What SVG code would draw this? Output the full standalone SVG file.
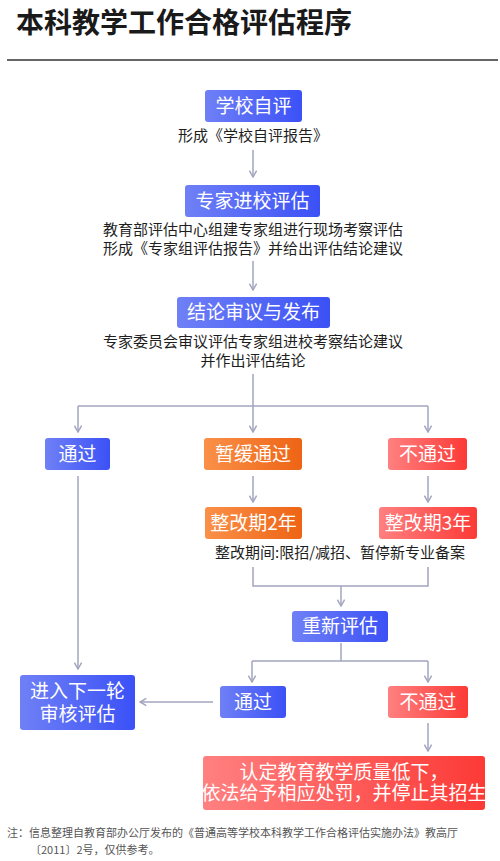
<svg xmlns="http://www.w3.org/2000/svg" width="500" height="861" viewBox="0 0 500 861">
<defs>
<linearGradient id="gBlue" x1="0" y1="0" x2="1" y2="0"><stop offset="0" stop-color="#6f80f6"/><stop offset="1" stop-color="#3b51f6"/></linearGradient>
<linearGradient id="gOrange" x1="0" y1="0" x2="1" y2="0"><stop offset="0" stop-color="#fa9048"/><stop offset="1" stop-color="#ee6415"/></linearGradient>
<linearGradient id="gRed" x1="0" y1="0" x2="1" y2="0"><stop offset="0" stop-color="#ff8080"/><stop offset="1" stop-color="#fc3a36"/></linearGradient>
<marker id="arr" viewBox="0 0 10 10" refX="9" refY="5" markerWidth="9" markerHeight="9" markerUnits="userSpaceOnUse" orient="auto">
<path d="M2,1 L9,5 L2,9" fill="none" stroke="#a2a4be" stroke-width="1.6"/>
</marker>
<style>
.t{font-family:"Noto Sans CJK SC","Noto Sans",sans-serif;}
.bt{font-family:"Noto Sans CJK SC","Noto Sans",sans-serif;font-size:19px;fill:#fff;text-anchor:middle;}
.dt{font-family:"Noto Sans CJK SC","Noto Sans",sans-serif;font-size:15px;fill:#1e1e1e;text-anchor:middle;}
.ln{fill:none;stroke:#a2a4be;stroke-width:1.5;}
.ar{fill:none;stroke:#a2a4be;stroke-width:1.5;marker-end:url(#arr);}
</style>
</defs>
<rect width="500" height="861" fill="#fff"/>
<text class="t" x="16" y="33" font-size="28" font-weight="bold" fill="#1a1a1a">本科教学工作合格评估程序</text>
<line x1="7" y1="60" x2="498" y2="60" stroke="#666" stroke-width="2"/>

<g id="connectors">
<path class="ar" d="M253,150 V177"/>
<path class="ar" d="M253,261 V290"/>
<path class="ln" d="M253,374 V406"/>
<path class="ln" d="M78,406 H428"/>
<path class="ar" d="M253,406 V432"/>
<path class="ar" d="M78,406 V432"/>
<path class="ar" d="M428,406 V432"/>
<path class="ar" d="M253,476 V502"/>
<path class="ar" d="M428,476 V502"/>
<path class="ln" d="M253,567 V586 H428 V567"/>
<path class="ar" d="M341,586 V606"/>
<path class="ln" d="M341,643 V661"/>
<path class="ln" d="M252,661 H428"/>
<path class="ar" d="M252,661 V682"/>
<path class="ar" d="M428,661 V682"/>
<path class="ar" d="M78,476 V669"/>
<path class="ar" d="M213,702 H140"/>
<path class="ar" d="M428,723 V751"/>
</g>

<g id="n1"><rect x="205" y="90" width="97" height="32" rx="3" fill="url(#gBlue)"/><text class="bt" x="253.5" y="113">学校自评</text></g>
<g id="t1"><text class="dt" x="253" y="141">形成《学校自评报告》</text></g>

<g id="n2"><rect x="185" y="185" width="135" height="32" rx="3" fill="url(#gBlue)"/><text class="bt" x="252.5" y="208">专家进校评估</text></g>
<g id="t2"><text class="dt" x="253" y="235">教育部评估中心组建专家组进行现场考察评估</text><text class="dt" x="253" y="254">形成《专家组评估报告》并给出评估结论建议</text></g>

<g id="n3"><rect x="177" y="297" width="153" height="31" rx="3" fill="url(#gBlue)"/><text class="bt" x="253.5" y="319">结论审议与发布</text></g>
<g id="t3"><text class="dt" x="253" y="347">专家委员会审议评估专家组进校考察结论建议</text><text class="dt" x="253" y="366">并作出评估结论</text></g>

<g id="n4"><rect x="45" y="438" width="65" height="32" rx="3" fill="url(#gBlue)"/><text class="bt" x="77.5" y="461">通过</text></g>
<g id="n5"><rect x="204" y="438" width="98" height="32" rx="3" fill="url(#gOrange)"/><text class="bt" x="253" y="461">暂缓通过</text></g>
<g id="n6"><rect x="388" y="438" width="79" height="32" rx="3" fill="url(#gRed)"/><text class="bt" x="427.5" y="461">不通过</text></g>

<g id="n7"><rect x="205" y="507" width="97" height="32" rx="3" fill="url(#gOrange)"/><text class="bt" x="253.5" y="530">整改期2年</text></g>
<g id="n8"><rect x="379" y="507" width="98" height="32" rx="3" fill="url(#gRed)"/><text class="bt" x="428" y="530">整改期3年</text></g>
<g id="t4"><text class="dt" x="340" y="558">整改期间:限招/减招、暂停新专业备案</text></g>

<g id="n9"><rect x="292" y="611" width="96" height="31" rx="3" fill="url(#gBlue)"/><text class="bt" x="340" y="633">重新评估</text></g>

<g id="n10"><rect x="20" y="675" width="115" height="55" rx="3" fill="url(#gBlue)"/><text class="bt" x="77.5" y="698">进入下一轮</text><text class="bt" x="77.5" y="721">审核评估</text></g>
<g id="n11"><rect x="220" y="686" width="66" height="32" rx="3" fill="url(#gBlue)"/><text class="bt" x="253" y="709">通过</text></g>
<g id="n12"><rect x="388" y="686" width="80" height="32" rx="3" fill="url(#gRed)"/><text class="bt" x="428" y="709">不通过</text></g>

<g id="n13"><rect x="203" y="756" width="282" height="54" rx="3" fill="url(#gRed)"/><text class="bt" x="344" y="779" font-size="18">认定教育教学质量低下，</text><text class="bt" x="344" y="800" font-size="18">依法给予相应处罚，并停止其招生</text></g>

<g id="note"><text class="t" x="7" y="837" font-size="11" fill="#555">注：信息整理自教育部办公厅发布的《普通高等学校本科教学工作合格评估实施办法》教高厅</text><text class="t" x="30" y="854" font-size="11" fill="#555">〔2011〕2号，仅供参考。</text></g>
</svg>
